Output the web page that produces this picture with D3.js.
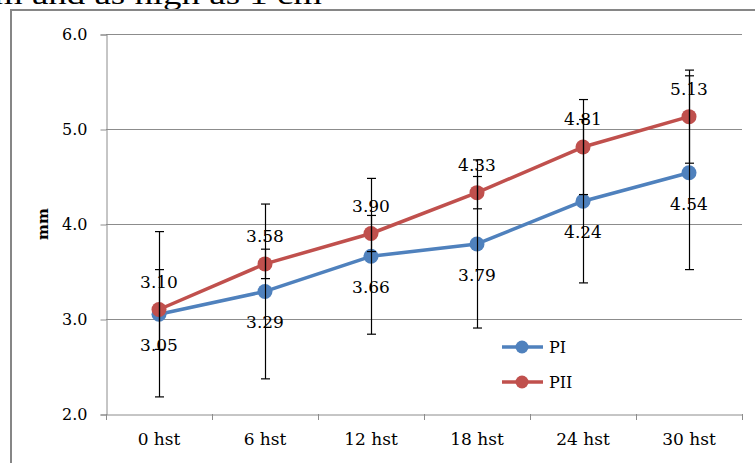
<!DOCTYPE html>
<html>
<head>
<meta charset="utf-8">
<script src="https://cdn.jsdelivr.net/npm/d3@7"></script>
<style>
  html, body { margin: 0; padding: 0; background: #fff; }
  svg { display: block; }
</style>
</head>
<body>
<svg id="chart" width="755" height="463"></svg>
<script>
const categories = ["0 hst", "6 hst", "12 hst", "18 hst", "24 hst", "30 hst"];
const seriesNames = ["PI", "PII"];
const valuesPI  = [3.05, 3.29, 3.66, 3.79, 4.24, 4.54];
const valuesPII = [3.10, 3.58, 3.90, 4.33, 4.81, 5.13];
const errorsPI  = [0.87, 0.92, 0.82, 0.885, 0.86, 1.02];
const errorsPII = [0.42, 0.155, 0.19, 0.17, 0.50, 0.49];
const yTicks = [2.0, 3.0, 4.0, 5.0, 6.0];
const yLabel = "mm";
const colors = ["#4F81BD", "#C0504D"];

const svg = d3.select("#chart");
const W = 755, H = 463;
const m = { left: 106, right: 742, top: 34, bottom: 414 };

// clipped caption text at the very top (cut off in the reference too)
svg.append("text")
  .attr("x", -6).attr("y", 4)
  .attr("font-family", "Liberation Serif, serif")
  .attr("font-size", 27)
  .attr("textLength", 328)
  .attr("lengthAdjust", "spacingAndGlyphs")
  .attr("fill", "#000")
  .text("m and as high as 1 cm");

// chart border (extends beyond view)
svg.append("rect")
  .attr("x", 11).attr("y", 10)
  .attr("width", W + 20).attr("height", H + 20)
  .attr("fill", "none")
  .attr("stroke", "#868686")
  .attr("stroke-width", 2);

const x = d3.scaleBand().domain(categories).range([m.left, m.right]).paddingInner(0).paddingOuter(0);
const y = d3.scaleLinear().domain([2, 6]).range([m.bottom, m.top]);

const gridColor = "#8c8c8c";

// horizontal gridlines
svg.append("g").selectAll("line").data(yTicks.filter(d => d !== 2)).join("line")
  .attr("x1", m.left).attr("x2", m.right)
  .attr("y1", d => Math.round(y(d)) + 0.5).attr("y2", d => Math.round(y(d)) + 0.5)
  .attr("stroke", gridColor).attr("stroke-width", 1);

// y axis
const yAxis = d3.axisLeft(y).tickValues(yTicks).tickFormat(d3.format(".1f")).tickSize(6).tickPadding(13);
const gy = svg.append("g").attr("transform", `translate(${m.left + 0.5},0.5)`).call(yAxis);
gy.select(".domain").attr("stroke", gridColor);
gy.selectAll(".tick line").attr("stroke", gridColor);
gy.selectAll(".tick text")
  .attr("font-family", "DejaVu Serif, serif").attr("font-size", 16).attr("fill", "#000");

// x axis
const xAxis = d3.axisBottom(x).tickSize(0).tickPadding(18);
const gx = svg.append("g").attr("transform", `translate(0,${m.bottom + 0.5})`).call(xAxis);
gx.select(".domain").attr("stroke", gridColor);
gx.selectAll(".tick text")
  .attr("font-family", "DejaVu Serif, serif").attr("font-size", 17).attr("fill", "#000");
// category boundary ticks
const bounds = categories.map(c => x(c)).concat([x(categories[categories.length - 1]) + x.bandwidth()]);
svg.append("g").selectAll("line").data(bounds).join("line")
  .attr("x1", d => Math.round(d) + 0.5).attr("x2", d => Math.round(d) + 0.5)
  .attr("y1", m.bottom).attr("y2", m.bottom + 6)
  .attr("stroke", gridColor);

// y label
svg.append("text")
  .attr("transform", `translate(48,${y(4)}) rotate(-90)`)
  .attr("text-anchor", "middle")
  .attr("font-family", "DejaVu Serif, serif")
  .attr("font-weight", "bold")
  .attr("font-size", 15)
  .text(yLabel);

const cx = c => x(c) + x.bandwidth() / 2;
const series = [
  { name: seriesNames[0], values: valuesPI, errors: errorsPI, color: colors[0], labelDy: 31 },
  { name: seriesNames[1], values: valuesPII, errors: errorsPII, color: colors[1], labelDy: -28 }
];

const line = d3.line().x((d, i) => cx(categories[i])).y(d => y(d));

series.forEach(s => {
  svg.append("path").datum(s.values)
    .attr("d", line)
    .attr("fill", "none")
    .attr("stroke", s.color)
    .attr("stroke-width", 3.5)
    .attr("stroke-linejoin", "round");
});
series.forEach(s => {
  svg.append("g").selectAll("circle").data(s.values).join("circle")
    .attr("cx", (d, i) => cx(categories[i]))
    .attr("cy", d => y(d))
    .attr("r", 7.5)
    .attr("fill", s.color);
});

// data labels
series.forEach(s => {
  svg.append("g").selectAll("text").data(s.values).join("text")
    .attr("x", (d, i) => cx(categories[i]))
    .attr("y", d => y(d) + s.labelDy + 6)
    .attr("text-anchor", "middle")
    .attr("font-family", "DejaVu Serif, serif")
    .attr("font-size", 17)
    .attr("fill", "#000")
    .text(d => d3.format(".2f")(d));
});

// error bars
series.forEach(s => {
  const g = svg.append("g").attr("stroke", "#000").attr("stroke-width", 1.2);
  s.values.forEach((v, i) => {
    const px = Math.round(cx(categories[i])) + 0.5;
    const top = y(v + s.errors[i]), bot = y(v - s.errors[i]);
    g.append("line").attr("x1", px).attr("x2", px).attr("y1", top).attr("y2", bot);
    g.append("line").attr("x1", px - 4.5).attr("x2", px + 4.5).attr("y1", top).attr("y2", top);
    g.append("line").attr("x1", px - 4.5).attr("x2", px + 4.5).attr("y1", bot).attr("y2", bot);
  });
});

// legend
const legend = svg.append("g");
series.forEach((s, i) => {
  const ly = [347, 382][i];
  legend.append("line").attr("x1", 502).attr("x2", 543).attr("y1", ly).attr("y2", ly)
    .attr("stroke", s.color).attr("stroke-width", 3.5);
  legend.append("circle").attr("cx", 522).attr("cy", ly).attr("r", 6.5).attr("fill", s.color);
  legend.append("text").attr("x", 549).attr("y", ly + 6)
    .attr("font-family", "DejaVu Serif, serif").attr("font-size", 16).attr("fill", "#000")
    .text(s.name);
});
</script>
</body>
</html>
